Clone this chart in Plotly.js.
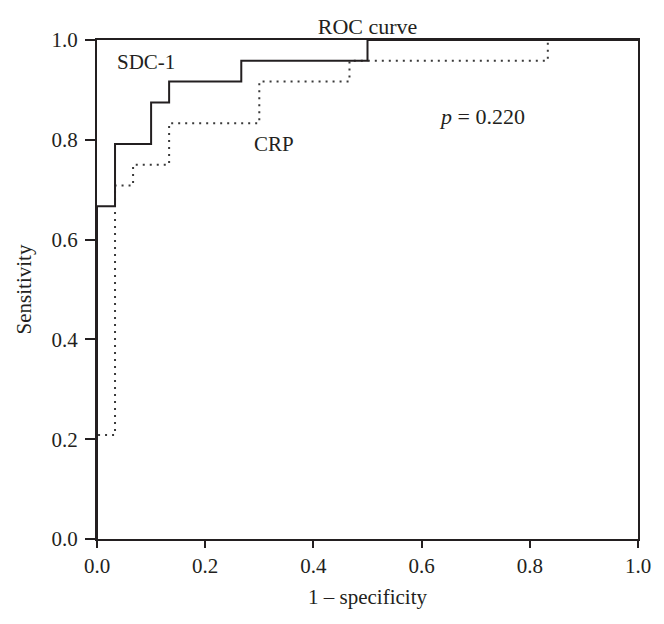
<!DOCTYPE html>
<html>
<head>
<meta charset="utf-8">
<script src="https://cdn.plot.ly/plotly-3.0.1.min.js"></script>
<style>html,body{margin:0;padding:0;background:#fff;}#chart{width:664px;height:624px;}</style>
</head>
<body>
<div id="chart"></div>
<script>
// SDC-1 ROC curve (1 - specificity, sensitivity)
var sdcFpr  = [0, 0, 0.0333, 0.0333, 0.1, 0.1, 0.1333, 0.1333, 0.2667, 0.2667, 0.5, 0.5, 1];
var sdcSens = [0, 0.6667, 0.6667, 0.7917, 0.7917, 0.875, 0.875, 0.9167, 0.9167, 0.9583, 0.9583, 1, 1];
// CRP ROC curve
var crpFpr  = [0, 0, 0.0333, 0.0333, 0.0667, 0.0667, 0.1333, 0.1333, 0.3, 0.3, 0.4667, 0.4667, 0.8333, 0.8333, 1];
var crpSens = [0, 0.2083, 0.2083, 0.7083, 0.7083, 0.75, 0.75, 0.8333, 0.8333, 0.9167, 0.9167, 0.9583, 0.9583, 1, 1];
var tickVals = [0, 0.2, 0.4, 0.6, 0.8, 1.0];
var tickText = ['0.0', '0.2', '0.4', '0.6', '0.8', '1.0'];

var ink = '#231f20';
var fontFam = '"Liberation Serif", "DejaVu Serif", serif';

var traces = [
  {x: crpFpr, y: crpSens, type: 'scatter', mode: 'lines', name: 'CRP',
   line: {color: '#3a3a3a', width: 2, dash: '2px,5px', shape: 'linear'}},
  {x: sdcFpr, y: sdcSens, type: 'scatter', mode: 'lines', name: 'SDC-1',
   line: {color: ink, width: 2, shape: 'linear'}}
];

var axisCommon = {
  range: [0, 1], showgrid: false, zeroline: false,
  showline: true, linecolor: ink, linewidth: 2, mirror: true,
  ticks: 'outside', tickcolor: ink, tickwidth: 2,
  tickvals: tickVals, ticktext: tickText,
  tickfont: {family: fontFam, size: 21, color: ink}
};

var layout = {
  width: 664, height: 624,
  margin: {l: 97, r: 26, t: 40, b: 85},
  paper_bgcolor: '#fff', plot_bgcolor: '#fff',
  showlegend: false,
  font: {family: fontFam, color: ink},
  title: {text: 'ROC curve', font: {family: fontFam, size: 22, color: ink},
          x: 0.5, xref: 'paper', y: 0.958, yref: 'container', yanchor: 'middle'},
  xaxis: Object.assign({}, axisCommon, {ticklen: 7,
    title: {text: '1 – specificity', font: {family: fontFam, size: 21, color: ink}, standoff: 12}}),
  yaxis: Object.assign({}, axisCommon, {ticklen: 10, ticklabelstandoff: 3,
    title: {text: 'Sensitivity', font: {family: fontFam, size: 21, color: ink}, standoff: 14}}),
  annotations: [
    {text: 'SDC-1', x: 0.033, y: 0.955, xref: 'x', yref: 'y', xanchor: 'left', yanchor: 'middle',
     showarrow: false, font: {family: fontFam, size: 21, color: ink}},
    {text: 'CRP', x: 0.286, y: 0.791, xref: 'x', yref: 'y', xanchor: 'left', yanchor: 'middle',
     showarrow: false, font: {family: fontFam, size: 21, color: ink}},
    {text: '<i>p</i> = 0.220', x: 0.628, y: 0.847, xref: 'x', yref: 'y', xanchor: 'left', yanchor: 'middle',
     showarrow: false, font: {family: fontFam, size: 22, color: ink}}
  ]
};

Plotly.newPlot('chart', traces, layout, {displayModeBar: false, staticPlot: true});
</script>
</body>
</html>
